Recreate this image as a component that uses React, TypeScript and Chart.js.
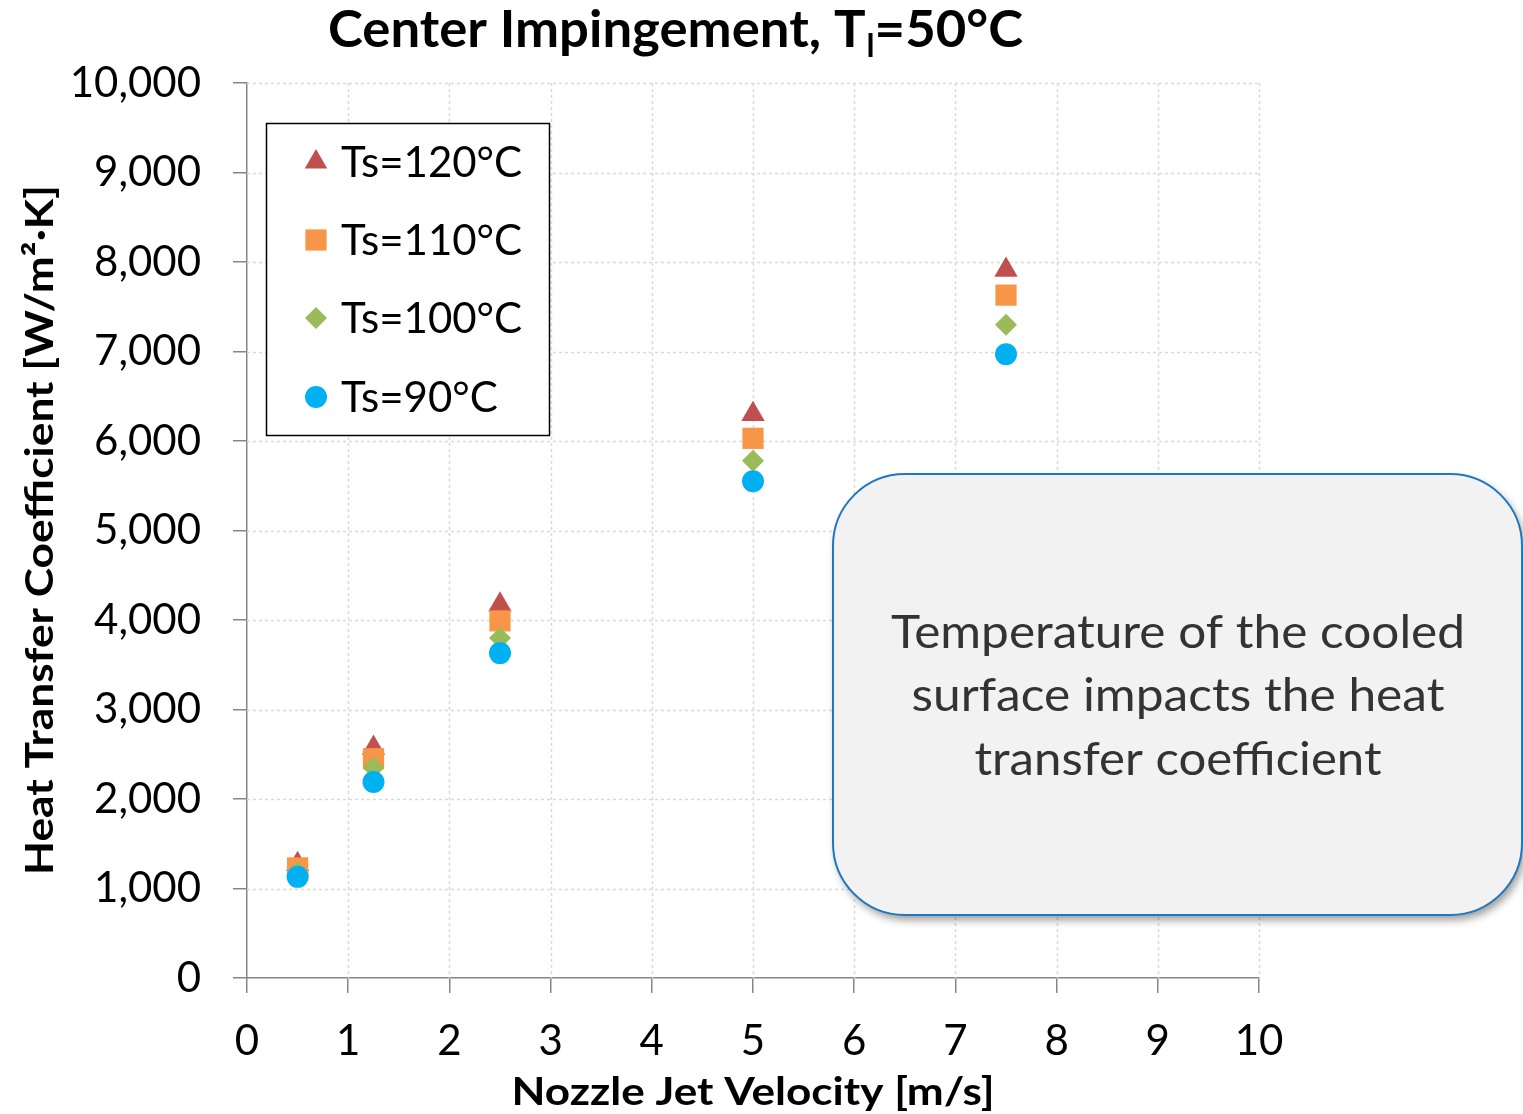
import React, { useEffect, useRef } from "react";
import { Chart, registerables } from "chart.js";

Chart.register(...registerables);

const velocities = [0.5, 1.25, 2.5, 5, 7.5];
const htc120 = [1270, 2570, 4170, 6300, 7910];
const htc110 = [1230, 2450, 3990, 6030, 7630];
const htc100 = [1180, 2350, 3800, 5780, 7300];
const htc90 = [1130, 2190, 3630, 5550, 6970];
const seriesLabels = ["Ts=120°C", "Ts=110°C", "Ts=100°C", "Ts=90°C"];
const seriesColors = ["#C0504D", "#F79646", "#9BBB59", "#00B0F0"];
const seriesShapes = ["triangle", "rect", "rectRot", "circle"];
const seriesRadius = [13.5, 15, 11, 11];
const calloutLines = [
  "Temperature of the cooled",
  "surface impacts the heat",
  "transfer coefficient",
];
const titleMain = "Center Impingement, T";
const titleSub = "l";
const titleTail = "=50°C";
const xTitle = "Nozzle Jet Velocity [m/s]";
const yTitle = "Heat Transfer Coefficient [W/m²·K]";

const FONT = "Lato, 'Open Sans', sans-serif";

function fitText(
  ctx: CanvasRenderingContext2D,
  text: string,
  x: number,
  y: number,
  font: string,
  targetW: number
) {
  ctx.save();
  ctx.font = font;
  const w = ctx.measureText(text).width;
  const sx = targetW / w;
  ctx.translate(x, y);
  ctx.scale(sx, 1);
  ctx.textAlign = "center";
  ctx.textBaseline = "alphabetic";
  ctx.fillText(text, 0, 0);
  ctx.restore();
}

function drawShape(
  ctx: CanvasRenderingContext2D,
  shape: string,
  x: number,
  y: number,
  r: number,
  color: string
) {
  ctx.save();
  ctx.fillStyle = color;
  ctx.beginPath();
  if (shape === "triangle") {
    const h = r * 1.5;
    const half = r * Math.sqrt(3) / 2;
    ctx.moveTo(x, y - r);
    ctx.lineTo(x + half, y - r + h);
    ctx.lineTo(x - half, y - r + h);
    ctx.closePath();
  } else if (shape === "rect") {
    const s = r * Math.SQRT1_2;
    ctx.rect(x - s, y - s, 2 * s, 2 * s);
  } else if (shape === "rectRot") {
    ctx.moveTo(x, y - r);
    ctx.lineTo(x + r, y);
    ctx.lineTo(x, y + r);
    ctx.lineTo(x - r, y);
    ctx.closePath();
  } else {
    ctx.arc(x, y, r, 0, Math.PI * 2);
  }
  ctx.fill();
  ctx.restore();
}

const decorPlugin = {
  id: "decor",
  beforeDatasetsDraw(chart: any) {
    const ctx: CanvasRenderingContext2D = chart.ctx;
    const { left, right, top, bottom } = chart.chartArea;
    const xs = chart.scales.x;
    const ys = chart.scales.y;
    ctx.save();
    ctx.strokeStyle = "#D9D9D9";
    ctx.lineWidth = 1.5;
    ctx.setLineDash([3, 3]);
    xs.ticks.forEach((t: any) => {
      if (t.value === 0) return;
      const px = Math.round(xs.getPixelForValue(t.value)) + 0.5;
      ctx.beginPath();
      ctx.moveTo(px, top);
      ctx.lineTo(px, bottom);
      ctx.stroke();
    });
    ys.ticks.forEach((t: any) => {
      if (t.value === 0) return;
      const py = Math.round(ys.getPixelForValue(t.value)) + 0.5;
      ctx.beginPath();
      ctx.moveTo(left, py);
      ctx.lineTo(right, py);
      ctx.stroke();
    });
    ctx.restore();
  },
  afterDraw(chart: any) {
    const ctx: CanvasRenderingContext2D = chart.ctx;
    ctx.save();
    ctx.fillStyle = "#000";
    // Title with subscript
    const mainFont = `bold 52px ${FONT}`;
    const subFont = `bold 32px ${FONT}`;
    ctx.font = mainFont;
    const w1 = ctx.measureText(titleMain).width;
    const w3 = ctx.measureText(titleTail).width;
    ctx.font = subFont;
    const w2 = ctx.measureText(titleSub).width;
    const total = w1 + w2 + w3;
    const sx = 694 / total;
    ctx.save();
    ctx.translate(328, 47);
    ctx.scale(sx, 1);
    ctx.textAlign = "left";
    ctx.textBaseline = "alphabetic";
    ctx.font = mainFont;
    ctx.fillText(titleMain, 0, 0);
    ctx.font = subFont;
    ctx.fillText(titleSub, w1 + 1, 10);
    ctx.font = mainFont;
    ctx.fillText(titleTail, w1 + w2 + 1, 0);
    ctx.restore();

    // Axis titles
    fitText(ctx, xTitle, 753, 1105, `bold 39px ${FONT}`, 483);
    ctx.save();
    ctx.translate(53, 530);
    ctx.rotate(-Math.PI / 2);
    fitText(ctx, yTitle, 0, 0, `bold 39px ${FONT}`, 690);
    ctx.restore();

    // Legend
    ctx.save();
    ctx.fillStyle = "#FFFFFF";
    ctx.fillRect(266, 123, 283, 312);
    ctx.strokeStyle = "#000";
    ctx.lineWidth = 1.5;
    ctx.strokeRect(266.5, 123.5, 283, 312);
    const rowY = [162, 240, 318, 397];
    seriesLabels.forEach((lab, i) => {
      const r = i === 0 ? 13 : i === 1 ? 15 : 11;
      drawShape(ctx, seriesShapes[i], 316, rowY[i], r, seriesColors[i]);
      ctx.fillStyle = "#000";
      ctx.font = `42px ${FONT}`;
      ctx.textAlign = "left";
      ctx.textBaseline = "middle";
      ctx.fillText(lab, 341, rowY[i] + 1);
    });
    ctx.restore();

    // Callout box
    const bx = 833, by = 474, bw = 689, bh = 441, br = 72;
    ctx.save();
    ctx.beginPath();
    ctx.roundRect(bx, by, bw, bh, br);
    ctx.shadowColor = "rgba(0,0,0,0.4)";
    ctx.shadowBlur = 8;
    ctx.shadowOffsetX = 3;
    ctx.shadowOffsetY = 5;
    ctx.fillStyle = "#F2F2F2";
    ctx.fill();
    ctx.shadowColor = "transparent";
    ctx.lineWidth = 2;
    ctx.strokeStyle = "#1F77C0";
    ctx.stroke();
    ctx.restore();
    ctx.fillStyle = "#333333";
    const lineW = [574, 533, 407];
    const lineBase = [648, 711, 775];
    calloutLines.forEach((ln, i) => {
      fitText(ctx, ln, 1178, lineBase[i], `47px ${FONT}`, lineW[i]);
    });
    ctx.restore();
  },
};

export default function App() {
  const ref = useRef<HTMLCanvasElement | null>(null);
  useEffect(() => {
    if (!ref.current) return;
    const datasets = [htc90, htc100, htc110, htc120].map((arr, k) => {
      const i = 3 - k;
      return {
        label: seriesLabels[i],
        data: velocities.map((v, j) => ({ x: v, y: arr[j] })),
        pointStyle: seriesShapes[i] as any,
        pointRadius: seriesRadius[i],
        pointHoverRadius: seriesRadius[i],
        backgroundColor: seriesColors[i],
        borderColor: seriesColors[i],
        borderWidth: 0,
        pointBorderWidth: 0,
        showLine: false,
        order: k,
      };
    });
    const chart = new Chart(ref.current, {
      type: "scatter",
      data: { datasets },
      options: {
        animation: false,
        responsive: false,
        devicePixelRatio: 1,
        layout: { padding: { left: 0, right: 264, top: 83, bottom: 0 } },
        plugins: {
          legend: { display: false },
          tooltip: { enabled: false },
          title: { display: false },
        },
        scales: {
          x: {
            type: "linear",
            min: 0,
            max: 10,
            afterFit: (s: any) => {
              s.height = 136;
            },
            ticks: {
              stepSize: 1,
              color: "#000",
              padding: 23,
              font: { family: FONT, size: 42 },
            },
            grid: {
              drawOnChartArea: false,
              drawTicks: true,
              tickLength: 15,
              color: "#868686",
              lineWidth: 1.5,
            },
            border: { color: "#868686", width: 1.5 },
          },
          y: {
            type: "linear",
            min: 0,
            max: 10000,
            afterFit: (s: any) => {
              s.width = 247;
            },
            ticks: {
              stepSize: 1000,
              color: "#000",
              padding: 32,
              font: { family: FONT, size: 42 },
              callback: (v: any) => Number(v).toLocaleString("en-US"),
            },
            grid: {
              drawOnChartArea: false,
              drawTicks: true,
              tickLength: 14,
              color: "#868686",
              lineWidth: 1.5,
            },
            border: { color: "#868686", width: 1.5 },
          },
        },
      },
      plugins: [decorPlugin],
    });
    return () => chart.destroy();
  }, []);
  return (
    <div style={{ position: "absolute", left: 0, top: 0, width: 1523, height: 1114, overflow: "hidden", background: "#fff" }}>
      <canvas ref={ref} width={1523} height={1114} style={{ width: 1523, height: 1114, display: "block" }} />
    </div>
  );
}
